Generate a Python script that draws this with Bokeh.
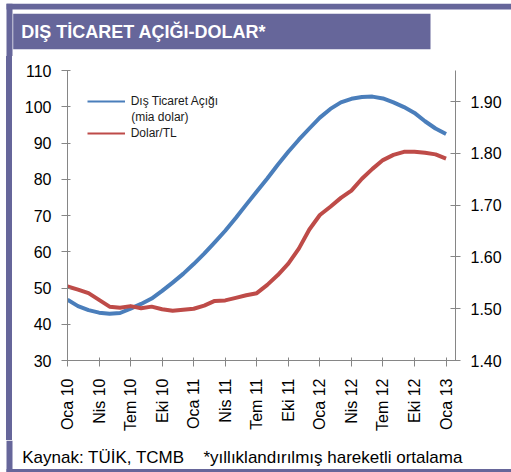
import math
from bokeh.plotting import figure
from bokeh.layouts import column, row
from bokeh.models import (Range1d, LinearAxis, FixedTicker, NumeralTickFormatter,
                          Legend, LegendItem, BoxAnnotation, Label, Spacer)
from bokeh.embed import file_html
from bokeh.resources import INLINE

# ---------------- data ----------------
months = list(range(37))  # Oca 10 ... Oca 13, monthly
tick_months = [0, 3, 6, 9, 12, 15, 18, 21, 24, 27, 30, 33, 36]
tick_labels = ["Oca 10", "Nis 10", "Tem 10", "Eki 10", "Oca 11", "Nis 11", "Tem 11",
               "Eki 11", "Oca 12", "Nis 12", "Tem 12", "Eki 12", "Oca 13"]
left_ticks = [30, 40, 50, 60, 70, 80, 90, 100, 110]
right_ticks = [1.40, 1.50, 1.60, 1.70, 1.80, 1.90]

# Dış ticaret açığı (mia dolar), yıllıklandırılmış
deficit = [46.8, 45.0, 43.9, 43.2, 42.9, 43.1, 44.3, 45.6, 47.1, 49.2,
           51.5, 53.9, 56.6, 59.5, 62.6, 65.8, 69.3, 73.0, 76.6, 80.2,
           84.0, 87.6, 90.9, 94.0, 97.0, 99.4, 101.2, 102.2, 102.7, 102.8,
           102.3, 101.2, 99.9, 98.3, 96.0, 94.0, 92.5]
# Dolar/TL
usdtry = [1.543, 1.537, 1.530, 1.517, 1.504, 1.502, 1.505, 1.501, 1.504, 1.499,
          1.496, 1.498, 1.500, 1.506, 1.515, 1.516, 1.521, 1.526, 1.530, 1.546,
          1.565, 1.587, 1.616, 1.653, 1.681, 1.697, 1.714, 1.728, 1.751, 1.770,
          1.787, 1.797, 1.803, 1.803, 1.801, 1.798, 1.790]

title_text = "DIŞ TİCARET AÇIĞI-DOLAR*"
legend_labels = ["Dış Ticaret Açığı", "Dolar/TL"]
legend_sub = "(mia dolar)"
source_text = "Kaynak: TÜİK, TCMB"
note_text = "*yıllıklandırılmış hareketli ortalama"

# ---------------- styling ----------------
W, H = 511, 472
TOP_H = 56          # title strip
FOOT_H = 32         # footer strip
MAIN_H = H - TOP_H - FOOT_H
FONT = "Liberation Sans"
PURPLE = "#66669a"
BLUE = "#4a7ebb"
RED = "#be4b48"
AXIS = "#868686"


def deco_fig(w, h):
    f = figure(width=w, height=h, output_backend="svg", toolbar_location=None,
               x_range=Range1d(0, w), y_range=Range1d(h, 0), title=None,
               x_axis_location=None, y_axis_location=None,
               min_border=0, min_border_left=0, min_border_right=0,
               min_border_top=0, min_border_bottom=0)
    f.outline_line_color = None
    f.grid.visible = False
    f.background_fill_color = "white"
    f.border_fill_color = "white"
    return f


def box(f, l, r, t, b, color=PURPLE):
    f.add_layout(BoxAnnotation(left=l, right=r, top=t, bottom=b, fill_color=color,
                               fill_alpha=1, line_color=None))


# ---------------- title strip ----------------
top = deco_fig(W, TOP_H)
box(top, 6, W, 3.3, 8.5)
box(top, 6, W, 8.5, 9.6, "#b3b2cf")
box(top, 6, 12, 3.3, TOP_H)
box(top, 12.7, 430, 13.3, 48.7)
top.add_layout(Label(x=20.7, y=31, text=title_text, text_font=FONT,
                     text_font_style="bold", text_font_size="18px",
                     text_color="white", text_baseline="middle", text_align="left"))

# ---------------- left strip (purple frame bar) ----------------
gap = Spacer(width=6, height=MAIN_H)
bar = Spacer(width=6, height=MAIN_H, styles={"background-color": PURPLE})

# ---------------- main chart ----------------
p = figure(width=W - 12, height=MAIN_H, output_backend="svg", toolbar_location=None,
           title=None, x_range=Range1d(0, 36.9), y_range=Range1d(30, 110),
           min_border_left=55, min_border_right=56, min_border_top=14,
           min_border_bottom=80)
p.extra_y_ranges = {"tl": Range1d(1.40, 1.96)}
p.outline_line_color = None
p.xgrid.visible = False
p.ygrid.visible = False
p.background_fill_color = "white"
p.border_fill_color = "white"

p.line(months, deficit, line_color=BLUE, line_width=4, line_join="round")
p.line(months, usdtry, y_range_name="tl", line_color=RED, line_width=4,
       line_join="round")

# thin legend samples (single point lines: draw nothing on the chart)
lg_blue = p.line(months[:1], deficit[:1], line_color=BLUE, line_width=2)
lg_red = p.line(months[:1], usdtry[:1], y_range_name="tl", line_color=RED,
                line_width=2)

xa = p.xaxis[0]
xa.ticker = FixedTicker(ticks=tick_months, minor_ticks=[])
xa.major_label_overrides = {m: l for m, l in zip(tick_months, tick_labels)}
xa.major_label_orientation = math.pi / 2
xa.major_tick_in = 3
xa.major_tick_out = 6
xa.minor_tick_in = 0
xa.minor_tick_out = 0
xa.axis_line_color = AXIS
xa.major_tick_line_color = AXIS
xa.major_label_text_font = FONT
xa.major_label_text_font_size = "16px"
xa.major_label_text_color = "#000000"
xa.major_label_standoff = 12

ya = p.yaxis[0]
ya.ticker = FixedTicker(ticks=left_ticks, minor_ticks=[])
ya.major_tick_in = 3
ya.major_tick_out = 6
ya.minor_tick_in = 0
ya.minor_tick_out = 0
ya.axis_line_color = AXIS
ya.major_tick_line_color = AXIS
ya.major_label_text_font = FONT
ya.major_label_text_font_size = "16px"
ya.major_label_text_color = "#000000"
ya.major_label_standoff = 10

ra = LinearAxis(y_range_name="tl")
ra.ticker = FixedTicker(ticks=right_ticks, minor_ticks=[])
ra.formatter = NumeralTickFormatter(format="0.00")
ra.major_tick_in = 5
ra.major_tick_out = 5
ra.minor_tick_in = 0
ra.minor_tick_out = 0
ra.axis_line_color = AXIS
ra.major_tick_line_color = AXIS
ra.major_label_text_font = FONT
ra.major_label_text_font_size = "16px"
ra.major_label_text_color = "#000000"
ra.major_label_standoff = 10
p.add_layout(ra, "right")

legend = Legend(items=[LegendItem(label=legend_labels[0], renderers=[lg_blue]),
                       LegendItem(label=legend_labels[1], renderers=[lg_red])],
                location=(19.7, 220), margin=0, padding=0, spacing=18,
                glyph_width=38, glyph_height=14, label_height=14,
                label_standoff=6, border_line_color=None,
                background_fill_alpha=0, label_text_font=FONT,
                label_text_font_size="12px", label_text_color="#1a1a1a")
p.add_layout(legend)
p.add_layout(Label(x=63.7, y=243.3, x_units="screen", y_units="screen",
                   text=legend_sub, text_font=FONT, text_font_size="12px",
                   text_color="#1a1a1a", text_baseline="middle", text_align="left"))

# ---------------- footer strip ----------------
foot = deco_fig(W, FOOT_H)
box(foot, 6, 12, 0, FOOT_H)
box(foot, 6, W, 28.5, FOOT_H)
foot.add_layout(Label(x=21.7, y=16.7, text=source_text, text_font=FONT,
                      text_font_size="17px", text_color="#000000",
                      text_baseline="middle", text_align="left"))
foot.add_layout(Label(x=203, y=16.7, text=note_text, text_font=FONT,
                      text_font_size="17px", text_color="#000000",
                      text_baseline="middle", text_align="left"))

layout = column(top, row(gap, bar, p, spacing=0), foot, spacing=0)

open("out.html", "w").write(file_html(layout, INLINE))
